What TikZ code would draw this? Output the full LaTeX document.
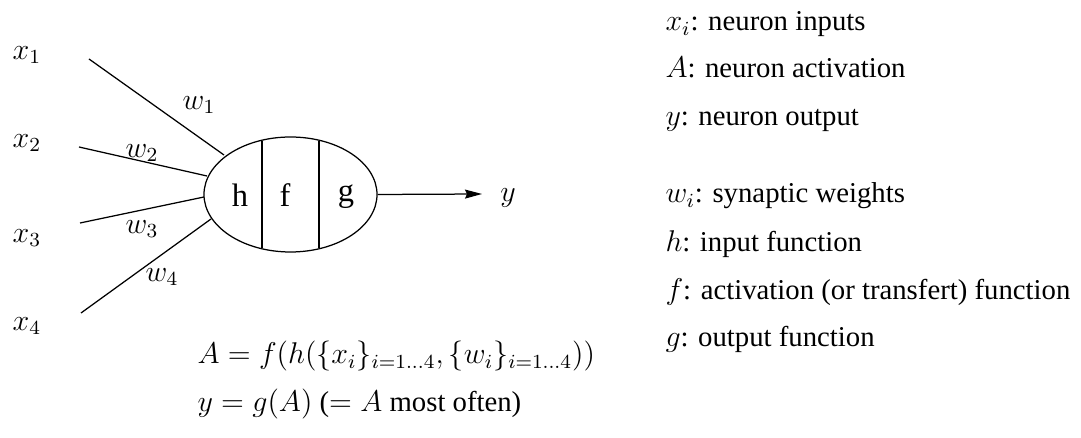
\documentclass[tikz,border=0pt]{standalone}
\usepackage{fontspec}
\setmainfont{Liberation Serif}
\usetikzlibrary{arrows.meta,shapes.geometric}
\begin{document}
\begin{tikzpicture}[x=0.4pt,y=-0.4pt,
  lbl/.style={inner sep=0pt},
  leg/.style={inner sep=0pt,anchor=base west},
  wire/.style={line width=0.5pt},
  every node/.style={font=\fontsize{11.5}{14}\selectfont}]
\useasboundingbox (0,0) rectangle (1081,438);
% inputs
\node[lbl] (x1) at (27,55) {$x_1$};
\node[lbl] (x2) at (27,143) {$x_2$};
\node[lbl] (x3) at (27,238) {$x_3$};
\node[lbl] (x4) at (27,326) {$x_4$};
\coordinate (s1) at (89,59);
\coordinate (s2) at (79,147);
\coordinate (s3) at (80,223);
\coordinate (s4) at (81,313);
% neuron
\node[draw,ellipse,minimum width=69.2pt,minimum height=46pt,inner sep=0pt,line width=0.5pt] (n) at (290.5,194.5) {};
\coordinate (e1) at (224,155);
\coordinate (e2) at (207,176);
\coordinate (e3) at (204,197);
\coordinate (e4) at (211,219);
\draw[wire] (s1) -- (e1);
\draw[wire] (s2) -- (e2);
\draw[wire] (s3) -- (e3);
\draw[wire] (s4) -- (e4);
\coordinate (v1t) at (262,141);
\coordinate (v1b) at (262,248);
\coordinate (v2t) at (319,141);
\coordinate (v2b) at (319,248);
\draw[wire] (v1t) -- (v1b);
\draw[wire] (v2t) -- (v2b);
\node[lbl,font=\fontsize{13}{15}\selectfont] (h) at (240,195) {h};
\node[lbl,font=\fontsize{13}{15}\selectfont] (f) at (285,195) {f};
\node[lbl,font=\fontsize{13}{15}\selectfont] (g) at (346,197) {g};
% weights
\node[lbl] (w1) at (199,105) {$w_1$};
\node[lbl] (w2) at (142,153) {$w_2$};
\node[lbl] (w3) at (142,229) {$w_3$};
\node[lbl] (w4) at (162,277) {$w_4$};
% output
\node[lbl] (y) at (508,198) {$y$};
\coordinate (ye) at (482,194);
\draw[wire,-{Stealth[length=6.8pt,width=3.6pt,inset=0.8pt]}] (n.east) -- (ye);
% equations
\node[leg] (eq1) at (197,364) {$A=f(h(\{x_i\}_{i=1\ldots4},\{w_i\}_{i=1\ldots4}))$};
\node[leg] (eq2) at (197,412) {$y=g(A)$ ($=A$ most often)};
% legend
\node[leg] (l1) at (665,31) {$x_i$: neuron inputs};
\node[leg] (l2) at (665,78) {$A$: neuron activation};
\node[leg] (l3) at (665,126) {$y$: neuron output};
\node[leg] (l4) at (665,203) {$w_i$: synaptic weights};
\node[leg] (l5) at (665,252) {$h$: input function};
\node[leg] (l6) at (665,300) {$f$: activation (or transfert) function};
\node[leg] (l7) at (665,347) {$g$: output function};
\end{tikzpicture}
\end{document}
